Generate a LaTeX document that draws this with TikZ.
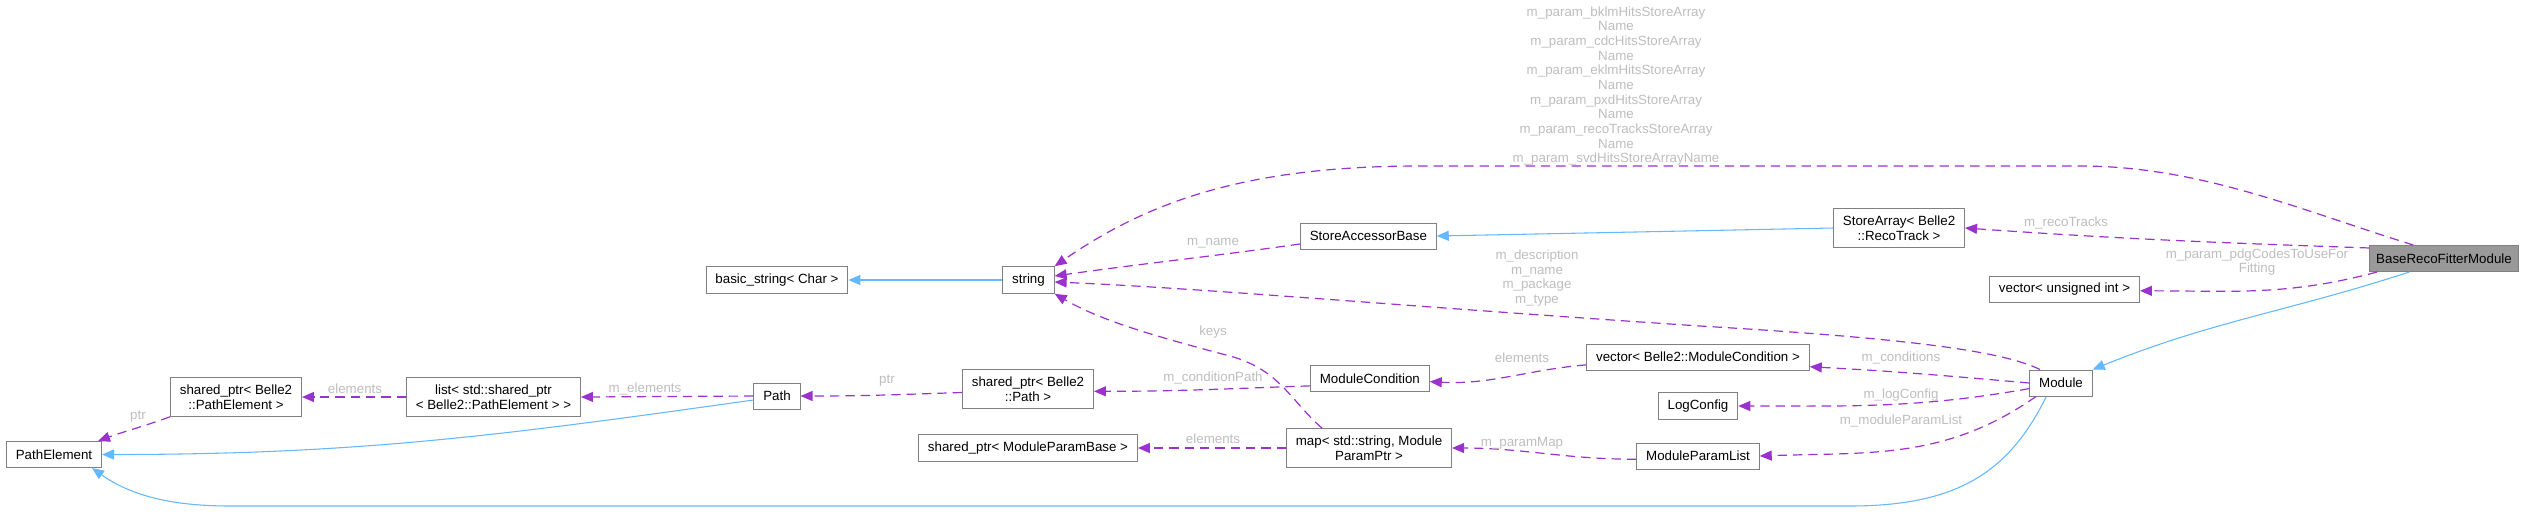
\documentclass[tikz,border=0pt]{standalone}
\usepackage{fontspec}
\setmainfont{Liberation Sans}
\usetikzlibrary{arrows.meta}
\definecolor{memberline}{HTML}{9A32CD}
\definecolor{baseline}{HTML}{63B8FF}
\definecolor{labelgray}{HTML}{BEBEBE}
\tikzset{
  cls/.style={draw=black!50, line width=0.75pt, fill=white, font=\fontsize{10}{11}\selectfont, align=center,
    inner xsep=7pt, inner ysep=5.3pt, minimum height=19.5pt},
  member/.style={draw=memberline, dash pattern=on 7pt off 4.5pt, line width=0.9pt,
    -{Triangle[length=9pt,width=7.5pt,fill=memberline]}},
  inherit/.style={draw=baseline, line width=0.8pt, -{Triangle[length=9pt,width=7.5pt,fill=baseline]}},
  lbl/.style={text=labelgray, font=\fontsize{10}{11}\selectfont, align=center, inner sep=0pt}
}
\begin{document}
\begin{tikzpicture}[x=0.75pt, y=-0.75pt]
  \useasboundingbox[fill=white] (0,0) rectangle (2529,512);

  \node[cls, fill=black!40, anchor=west, inner xsep=5pt] (recofit) at (2369,258.5) {BaseRecoFitterModule};
  \node[cls, anchor=east] (storearr) at (1965,228) {StoreArray< Belle2\\::RecoTrack >};
  \node[cls] (vecuint) at (2064.5,289.5) {vector< unsigned int >};
  \node[cls] (module) at (2061,383) {Module};
  \node[cls, anchor=west] (accbase) at (1300,236) {StoreAccessorBase};
  \node[cls] (str) at (1028.5,280) {string};
  \node[cls] (basicstr) at (777,280) {basic\_string< Char >};
  \node[cls] (vecmc) at (1698,357) {vector< Belle2::ModuleCondition >};
  \node[cls] (logcfg) at (1698,406) {LogConfig};
  \node[cls, anchor=west] (modcond) at (1310,378.5) {ModuleCondition};
  \node[cls] (parlist) at (1698,456) {ModuleParamList};
  \node[cls, anchor=west] (parmap) at (1286,448) {map< std::string, Module\\ParamPtr >};
  \node[cls] (ptrparbase) at (1028,448) {shared\_ptr< ModuleParamBase >};
  \node[cls] (ptrpath) at (1028,389) {shared\_ptr< Belle2\\::Path >};
  \node[cls] (path) at (777,396) {Path};
  \node[cls, anchor=west] (elemlist) at (406,397) {list< std::shared\_ptr\\< Belle2::PathElement > >};
  \node[cls] (ptrelem) at (236,397) {shared\_ptr< Belle2\\::PathElement >};
  \node[cls] (pathelem) at (54,454.5) {PathElement};

  \draw[inherit] ([xshift=-26pt]recofit.south) to[out=198,in=22] (module.north east);
  \draw[inherit] (storearr.west) to (accbase.east);
  \draw[inherit] (str.west) to (basicstr.east);
  \draw[inherit] ([yshift=-3pt]path.west) to[out=188,in=0] (pathelem.east);
  \draw[inherit] ([xshift=-11pt]module.south) .. controls (2010,470) and (1960,506) .. (1850,506)
    -- (230,506) .. controls (170,506) and (130,495) .. ([xshift=-7.5pt]pathelem.south east);

  \draw[member] ([xshift=-23pt]recofit.north) .. controls (2300,210) and (2200,166) .. (2080,166)
    -- (1420,166) .. controls (1250,166) and (1150,200) .. (str.north east);
  \draw[member] (recofit.172) to[out=178,in=-4] (storearr.east);
  \draw[member] ([xshift=6pt]recofit.south west) to[out=195,in=0] ([yshift=-1pt]vecuint.east);
  \draw[member] ([xshift=8pt]module.north west) .. controls (2000,350) and (1900,338) .. (1700,326)
    .. controls (1400,306) and (1200,288) .. ([yshift=-1.5pt]str.east);
  \draw[member] ([yshift=-6pt]accbase.west) to[out=188,in=8] ([yshift=3pt]str.east);
  \draw[member] ([xshift=27pt]parmap.north west) .. controls (1290,400) and (1280,370) .. (1230,356)
    .. controls (1150,335) and (1100,320) .. (str.south east);
  \draw[member] (module.west) to[out=175,in=-3] (vecmc.-5);
  \draw[member] (vecmc.184) to[out=185,in=-3] (modcond.-3);
  \draw[member] (modcond.187) to[out=182,in=0] (ptrpath.-2);
  \draw[member] (ptrpath.183) to[out=182,in=0] (path.east);
  \draw[member] (path.west) to (elemlist.east);
  \draw[member] (elemlist.west) to (ptrelem.east);
  \draw[member] (ptrelem.south west) to[out=200,in=20] ([xshift=-3pt]pathelem.north east);
  \draw[member] (module.190) to[out=190,in=0] (logcfg.east);
  \draw[member] ([xshift=5pt]module.south west) to[out=215,in=2] (parlist.east);
  \draw[member] (parlist.183) to[out=180,in=0] (parmap.east);
  \draw[member] (parmap.west) to (ptrparbase.east);

  \node[lbl] (lbparams) at (1616,86) {m\_param\_bklmHitsStoreArray\\Name\\m\_param\_cdcHitsStoreArray\\Name\\m\_param\_eklmHitsStoreArray\\Name\\m\_param\_pxdHitsStoreArray\\Name\\m\_param\_recoTracksStoreArray\\Name\\m\_param\_svdHitsStoreArrayName};
  \node[lbl] (lbtracks) at (2066,223) {m\_recoTracks};
  \node[lbl] (lbpdg) at (2257,262) {m\_param\_pdgCodesToUseFor\\Fitting};
  \node[lbl] (lbmodstr) at (1537,278) {m\_description\\m\_name\\m\_package\\m\_type};
  \node[lbl] (lbname) at (1213,243) {m\_name};
  \node[lbl] (lbkeys) at (1213,332) {keys};
  \node[lbl] (lbconds) at (1901,358) {m\_conditions};
  \node[lbl] (lbcondelem) at (1522,358) {elements};
  \node[lbl] (lbcondpath) at (1213,378) {m\_conditionPath};
  \node[lbl] (lbptr) at (887,381) {ptr};
  \node[lbl] (lbelements) at (645,389) {m\_elements};
  \node[lbl] (lblistelem) at (355,389) {elements};
  \node[lbl] (lbelemptr) at (138,417) {ptr};
  \node[lbl] (lblog) at (1901,395) {m\_logConfig};
  \node[lbl] (lbparlist) at (1901,421) {m\_moduleParamList};
  \node[lbl] (lbparmap) at (1522,443) {m\_paramMap};
  \node[lbl] (lbmapelem) at (1213,439) {elements};
\end{tikzpicture}
\end{document}
